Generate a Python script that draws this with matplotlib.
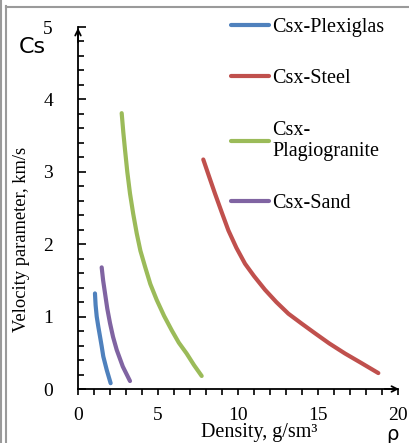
import matplotlib.pyplot as plt
from matplotlib.lines import Line2D
from matplotlib.ticker import MultipleLocator

# -----------------------------------------------------------------------------
# Data (density g/sm3, velocity parameter km/s)
# -----------------------------------------------------------------------------
plexi_rho = [1.06, 1.10, 1.17, 1.27, 1.38, 1.48, 1.58, 1.80, 2.04]
plexi_cs = [1.32, 1.16, 1.00, 0.86, 0.72, 0.59, 0.45, 0.26, 0.08]

steel_rho = [7.83, 8.20, 8.56, 9.00, 9.40, 9.90, 10.44, 11.00, 11.69,
             12.40, 13.15, 14.00, 14.81, 15.70, 16.69, 17.70, 18.77]
steel_cs = [3.17, 2.93, 2.70, 2.43, 2.19, 1.95, 1.73, 1.56, 1.37,
            1.20, 1.04, 0.90, 0.77, 0.63, 0.49, 0.36, 0.22]

plagio_rho = [2.73, 2.83, 2.94, 3.08, 3.25, 3.45, 3.67, 3.90, 4.19,
              4.52, 4.92, 5.38, 5.86, 6.30, 6.79, 7.25, 7.73]
plagio_cs = [3.81, 3.55, 3.30, 3.00, 2.70, 2.42, 2.15, 1.91, 1.69,
             1.45, 1.23, 1.01, 0.81, 0.64, 0.49, 0.33, 0.18]

sand_rho = [1.48, 1.57, 1.69, 1.83, 2.00, 2.19, 2.42, 2.80, 3.25]
sand_cs = [1.68, 1.50, 1.32, 1.11, 0.91, 0.72, 0.54, 0.31, 0.11]

labels = ["Csx-Plexiglas", "Csx-Steel", "Csx-\nPlagiogranite", "Csx-Sand"]
colors = ["#4F81BD", "#C0504D", "#9BBB59", "#8064A2"]

SERIF = "Liberation Serif"

fig = plt.figure(figsize=(4.10, 4.43), dpi=100)
ax = fig.add_axes([78 / 410, 1 - 389 / 443, 320 / 410, 362 / 443])

series = [(plexi_rho, plexi_cs), (steel_rho, steel_cs),
          (plagio_rho, plagio_cs), (sand_rho, sand_cs)]
for (x, y), lab, c in zip(series, labels, colors):
    ax.plot(x, y, color=c, lw=3, label=lab,
            solid_capstyle="round", solid_joinstyle="round")

ax.set_xlim(0, 20)
ax.set_ylim(0, 5)
ax.xaxis.set_major_locator(MultipleLocator(5))
ax.xaxis.set_minor_locator(MultipleLocator(1))
ax.yaxis.set_major_locator(MultipleLocator(1))
ax.yaxis.set_minor_locator(MultipleLocator(0.2))

for s in ["top", "right"]:
    ax.spines[s].set_visible(False)
for s in ["left", "bottom"]:
    ax.spines[s].set_linewidth(1.3)

ax.tick_params(axis="x", which="both", direction="out", length=4, width=1.2,
               pad=9, labelsize=14)
ax.tick_params(axis="y", which="major", direction="in", length=6, width=1.2,
               pad=18, labelsize=14)
ax.tick_params(axis="y", which="minor", direction="in", length=4, width=1.2)
for t in ax.get_xticklabels() + ax.get_yticklabels():
    t.set_fontfamily(SERIF)

# arrow heads on the axes
ax.annotate("", xy=(1.012, 0), xytext=(0.95, 0), xycoords="axes fraction",
            arrowprops=dict(arrowstyle="->", lw=1.3, color="black"))
ax.annotate("", xy=(0, 1.005), xytext=(0, 0.95), xycoords="axes fraction",
            arrowprops=dict(arrowstyle="->", lw=1.3, color="black"))

leg = ax.legend(loc="upper left", bbox_to_anchor=(231 / 410, 1 - 18 / 443),
                bbox_transform=fig.transFigure, frameon=False,
                prop={"family": SERIF, "size": 14.5}, handlelength=1.9,
                handletextpad=0.15, labelspacing=1.6, borderpad=0,
                borderaxespad=0)

fig.text(32 / 410, 1 - 47 / 443, "Cs", fontsize=16, ha="center", va="center")
fig.text(392 / 410, 1 - 435 / 443, "ρ", fontsize=14, ha="center", va="center")
fig.text(259 / 410, 1 - 432 / 443, "Density, g/sm³", family=SERIF,
         fontsize=14.5, ha="center", va="center")
fig.text(22 / 410, 1 - 239 / 443, "Velocity parameter, km/s", family=SERIF,
         fontsize=13.3, ha="center", va="center", rotation=90)

# grey frame from the source screenshot
fig.add_artist(Line2D([1 / 410, 1 / 410], [0, 1], color="#9a9a9a", lw=1.5))
fig.add_artist(Line2D([6 / 410, 6 / 410], [0, 1 - 6 / 443], color="#9a9a9a", lw=1.5))
fig.add_artist(Line2D([6 / 410, 1], [1 - 6.5 / 443, 1 - 6.5 / 443], color="#9a9a9a", lw=1.5))

fig.savefig("out.png", dpi=100)
